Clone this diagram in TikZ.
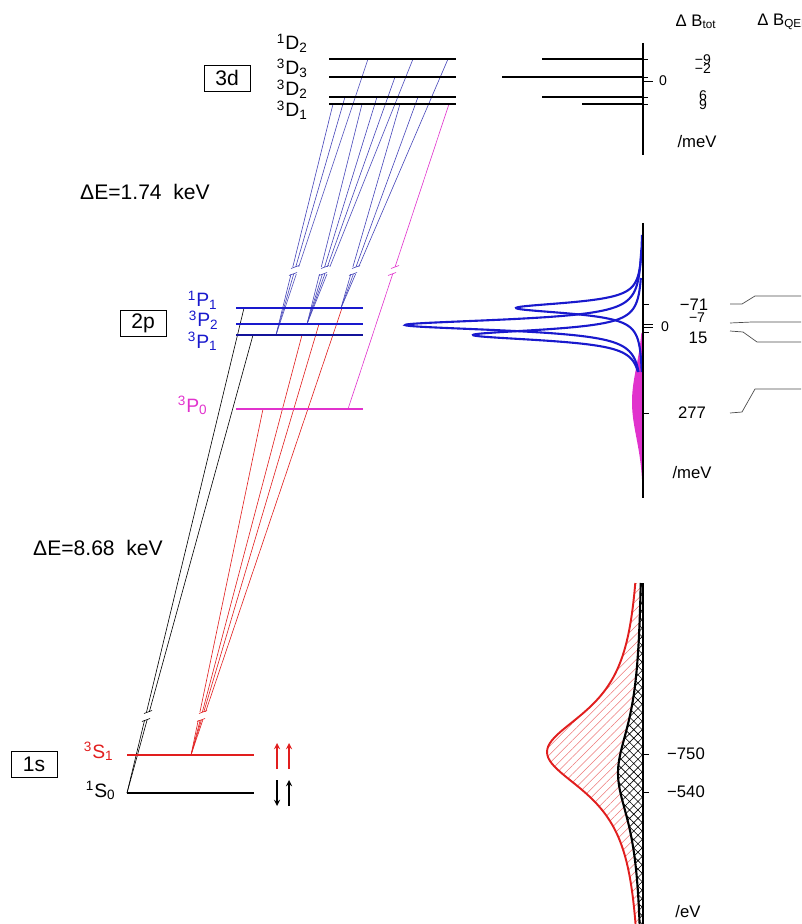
\documentclass[tikz,border=0pt]{standalone}
\usepackage{fontspec}
\setmainfont{Liberation Sans}
\usetikzlibrary{patterns.meta}
\definecolor{blu}{RGB}{25,25,205}
\definecolor{blutr}{RGB}{70,70,185}
\definecolor{rosso}{RGB}{225,30,30}
\definecolor{viola}{RGB}{225,50,205}
\begin{document}
\begin{tikzpicture}[x=0.2mm, y=-0.2mm, >=stealth]
% Stili per livelli, transizioni ed etichette
\tikzset{lvgrosso/.style={line width=1.7pt},
  lvsottile/.style={line width=0.8pt},
  lvmedio/.style={line width=1.2pt},
  trans/.style={line width=0.35pt},
  scatola/.style={draw, line width=0.5pt, inner sep=0pt, minimum width=9.2mm, minimum height=5.2mm, font=\fontsize{12}{14}\selectfont},
  etich/.style={inner sep=0pt, font=\fontsize{11}{12}\selectfont},
  quota/.style={inner sep=0pt, font=\fontsize{9.5}{11}\selectfont},
  quotina/.style={inner sep=0pt, font=\fontsize{8}{9}\selectfont},
  asse/.style={line width=0.6pt}}

\useasboundingbox (0,0) rectangle (801,924);

% --- TRANSIZIONI 3d -> 2p ---
\coordinate (p1) at (341,308);  % 1P1
\coordinate (p2) at (307,324);  % 3P2
\coordinate (p3) at (276,335);  % 3P1
\coordinate (p0) at (348,409);  % 3P0
\coordinate (b1a) at (333,104); \coordinate (b1b) at (345,97);  \coordinate (b1c) at (368,59);
\coordinate (b2a) at (362,104); \coordinate (b2b) at (377,97);  \coordinate (b2c) at (395,77);
\coordinate (b2d) at (413,59);
\coordinate (b3a) at (400,104); \coordinate (b3b) at (418,97);  \coordinate (b3c) at (448,59);
\coordinate (m1) at (449,104);
\foreach \a in {b1a,b1b,b1c} \draw[trans, blutr] (\a) -- (p3);
\foreach \a in {b2a,b2b,b2c,b2d} \draw[trans, blutr] (\a) -- (p2);
\foreach \a in {b3a,b3b,b3c} \draw[trans, blutr] (\a) -- (p1);
\draw[trans, viola] (m1) -- (p0);

% --- TRANSIZIONI 2p -> 1s ---
\coordinate (s1) at (191,755);  % 3S1
\coordinate (s0) at (127,793);  % 1S0
\coordinate (r1) at (342,308); \coordinate (r2) at (319,324);
\coordinate (r3) at (302,335); \coordinate (r4) at (263,409);
\coordinate (k1) at (244,308); \coordinate (k2) at (253,335);
\foreach \a in {r1,r2,r3,r4} \draw[trans, rosso] (\a) -- (s1);
\foreach \a in {k1,k2} \draw[trans] (\a) -- (s0);

% Interruzioni delle righe
\fill[white] (270,267) rectangle (410,274);
\fill[white] (135,712) rectangle (215,720);
\foreach \x/\y in {295/267, 293/274, 325/267, 323/274, 356/267, 353/274}
  \draw[trans, blutr] (\x-4,\y+1.5) -- (\x+4,\y-1.5);
\draw[trans, viola] (391,268.5) -- (399,265.5) (388,275.5) -- (396,272.5);
\draw[trans] (144,713.5) -- (152,710.5) (142,721.5) -- (150,718.5);
\draw[trans, rosso] (199,713.5) -- (207,710.5) (197,721.5) -- (205,718.5);

% --- LIVELLI 3d ---
\draw[lvgrosso] (329,59) -- (456,59);
\draw[lvsottile] (329,77) -- (456,77);
\draw[lvgrosso] (329,97) -- (456,97);
\draw[lvgrosso] (329,104) -- (456,104);
\node[scatola] (box3d) at (227,78) {3d};
\node[etich, anchor=base east] (l1d2) at (308,50) {\textsuperscript{1}D\textsubscript{2}};
\node[etich, anchor=base east] (l3d3) at (308,75) {\textsuperscript{3}D\textsubscript{3}};
\node[etich, anchor=base east] (l3d2) at (308,96) {\textsuperscript{3}D\textsubscript{2}};
\node[etich, anchor=base east] (l3d1) at (308,117) {\textsuperscript{3}D\textsubscript{1}};

% --- LIVELLI 2p ---
\draw[lvmedio, blu] (236,308) -- (363,308);
\draw[lvmedio, blu] (236,324) -- (363,324);
\draw[lvmedio, blu!75!black] (236,335) -- (363,335);
\draw[lvmedio, viola] (236,409) -- (363,409);
\node[scatola] (box2p) at (143,323) {2p};
\node[etich, blu, anchor=base east] (l1p1) at (218,307) {\textsuperscript{1}P\textsubscript{1}};
\node[etich, blu, anchor=base east] (l3p2) at (219,327) {\textsuperscript{3}P\textsubscript{2}};
\node[etich, blu, anchor=base east] (l3p1) at (218,348) {\textsuperscript{3}P\textsubscript{1}};
\node[etich, viola, anchor=base east] (l3p0) at (208,412) {\textsuperscript{3}P\textsubscript{0}};

% --- LIVELLI 1s ---
\draw[lvmedio, rosso] (127,755) -- (254,755);
\draw[lvmedio] (127,793) -- (254,793);
\node[scatola] (box1s) at (34,764) {1s};
\node[etich, rosso, anchor=base east] (l3s1) at (114,758) {\textsuperscript{3}S\textsubscript{1}};
\node[etich, anchor=base east] (l1s0) at (116,797) {\textsuperscript{1}S\textsubscript{0}};
% spin
\draw[->, line width=0.6pt, rosso] (277,769) -- (277,743);
\draw[->, line width=0.6pt, rosso] (289,769) -- (289,743);
\draw[->, line width=0.6pt] (277,780) -- (277,806);
\draw[->, line width=0.6pt] (289,806) -- (289,780);

% --- SEPARAZIONI ENERGETICHE ---
\node[font=\fontsize{12}{14}\selectfont] (de1) at (145,192) {ΔE=1.74\ \ keV};
\node[font=\fontsize{12}{14}\selectfont] (de2) at (98,548) {ΔE=8.68\ \ keV};

% --- PANNELLO DESTRO 3d ---
\node[quota] (btot) at (696,22) {Δ B\textsubscript{tot}};
\node[quota, anchor=west] (bqed) at (757,22) {Δ B\textsubscript{QED}};
\draw[asse] (643,43) -- (643,155);
\draw[lvgrosso] (542,59) -- (643,59);
\draw[lvsottile] (502,77) -- (643,77);
\draw[lvgrosso] (542,97) -- (643,97);
\draw[lvgrosso] (582,104) -- (643,104);
\foreach \y in {59,77,97,104} \draw[line width=0.4pt] (643,\y) -- (648,\y);
\draw[line width=0.4pt] (643,81) -- (653,81);
\node[quotina] (q0a) at (663,81) {0};
\node[quotina] (qm9) at (703,60) {−9};
\node[quotina] (qm2) at (703,69) {−2};
\node[quotina] (q6) at (703,96) {6};
\node[quotina] (q9) at (703,105) {9};
\node[quota] (mev1) at (697,142) {/meV};

% --- PANNELLO DESTRO 2p ---
\fill[viola] plot[domain=333:485, samples=80, variable=\t] ({643-11*exp(-((\t-402)/50)^2)}, \t)
  -- (643,485) -- (643,333) -- cycle;
\foreach \yc/\amp/\ya in {308/127/235, 325/238/250, 335/170/278}
  \draw[blu, line width=1.2pt] plot[domain=\ya:372, samples=300, variable=\t]
    ({643-\amp/(1+((\t-\yc)/6.5)^2)}, \t);
\draw[asse] (643,223) -- (643,498);
\foreach \y in {304,332,413} \draw[line width=0.4pt] (643,\y) -- (649,\y);
\foreach \y in {324,327} \draw[line width=0.4pt] (643,\y) -- (653,\y);
\node[quotina] (q0b) at (665,327) {0};
\node[quota] (q71) at (694,305) {−71};
\node[quotina] (q7) at (697,318) {−7};
\node[quota] (q15) at (698,338) {15};
\node[quota] (q277) at (692,413) {277};
\node[quota] (mev2) at (692,473) {/meV};
% raccordi verso la colonna QED
\draw[line width=0.4pt, black!70] (730,304) -- (742,304) -- (755,296) -- (801,296);
\draw[line width=0.4pt, black!70] (730,323) -- (752,322) -- (801,322);
\draw[line width=0.4pt, black!70] (730,331) -- (743,332) -- (757,342) -- (801,342);
\draw[line width=0.4pt, black!70] (730,413) -- (742,412) -- (755,389) -- (801,389);

% --- PANNELLO DESTRO 1s ---
\fill[pattern={Lines[angle=45, distance=3.4pt, line width=0.3pt]}, pattern color=rosso!60]
  plot[domain=583:924, samples=120, variable=\t] ({643-96/(1+((\t-752)/50)^2)}, \t)
  -- (643,924) -- (643,583) -- cycle;
\fill[white] plot[domain=583:924, samples=120, variable=\t] ({643-25/(1+((\t-773)/60)^2)}, \t)
  -- (643,924) -- (643,583) -- cycle;
\fill[pattern={Hatch[angle=45, distance=3.4pt, line width=0.35pt]}]
  plot[domain=583:924, samples=120, variable=\t] ({643-25/(1+((\t-773)/60)^2)}, \t)
  -- (643,924) -- (643,583) -- cycle;
\draw[rosso, line width=1.1pt] plot[domain=583:924, samples=120, variable=\t] ({643-96/(1+((\t-752)/50)^2)}, \t);
\draw[line width=1.2pt] plot[domain=583:924, samples=120, variable=\t] ({643-25/(1+((\t-773)/60)^2)}, \t);
\draw[asse] (643,583) -- (643,924);
\foreach \y in {754,792} \draw[line width=0.4pt] (643,\y) -- (649,\y);
\node[quota] (q750) at (686,754) {−750};
\node[quota] (q540) at (686,792) {−540};
\node[quota] (ev) at (688,912) {/eV};

\end{tikzpicture}
\end{document}
